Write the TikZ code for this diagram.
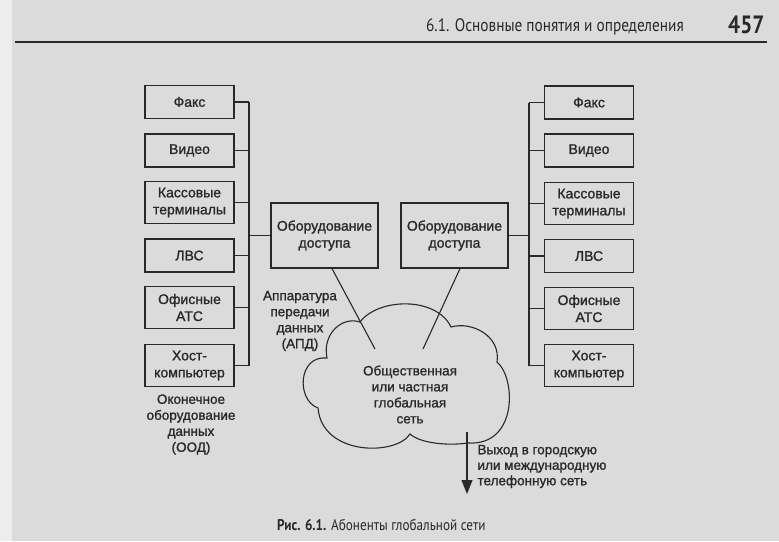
\documentclass[tikz,border=0pt]{standalone}
\usepackage{fontspec}
\setmainfont{Liberation Sans}
\newfontfamily\diagfont[FakeBold=1.2]{Liberation Sans}
\newfontfamily\headfont[FakeStretch=0.85]{PT Sans}
\usetikzlibrary{arrows.meta}
\definecolor{paper}{gray}{0.86}
\definecolor{paperedge}{gray}{0.93}
\definecolor{ink}{gray}{0.16}

\begin{document}
\begin{tikzpicture}[x=1pt,y=-1pt,
  unit/.style={draw=ink,line width=1.2pt,minimum width=89pt,minimum height=33pt,
    inner sep=1pt,align=center,text=ink,font=\diagfont\fontsize{14}{17}\selectfont},
  tall/.style={unit,minimum height=42pt},
  access/.style={unit,minimum width=107pt,minimum height=65pt},
  label/.style={align=center,text=ink,font=\diagfont\fontsize{13.5}{16}\selectfont},
  wire/.style={draw=ink,line width=1.1pt}]
% page
\fill[paperedge] (0,0) rectangle (779,541);
\fill[paper] (12,0) rectangle (779,541);
\useasboundingbox (0,0) rectangle (779,541);
% running head
\node[anchor=base east,inner sep=0pt,text=ink,font=\headfont\fontsize{18}{18}\selectfont] (head) at (684,31) {6.1. Основные понятия и определения};
\node[anchor=base west,inner sep=0pt,text=ink,font=\headfont\bfseries\fontsize{25}{25}\selectfont] (pageno) at (728,33) {457};
\draw[ink,line width=1.3pt] (15,42) -- (767,42);

% left subscribers
\node[unit] (lfax)   at (189.5,102)   {Факс};
\node[unit] (lvideo) at (189.5,150.5) {Видео};
\node[tall] (lpos)   at (189.5,202.5) {Кассовые\\терминалы};
\node[unit] (llan)   at (189.5,255.5) {ЛВС};
\node[tall] (lpbx)   at (189.5,307.5) {Офисные\\АТС};
\node[tall] (lhost)  at (189.5,365.5) {Хост-\\компьютер};
% right subscribers
\node[unit] (rfax)   at (589,102.5) {Факс};
\node[unit] (rvideo) at (589,150.5) {Видео};
\node[tall] (rpos)   at (589,203.5) {Кассовые\\терминалы};
\node[unit] (rlan)   at (589,256)   {ЛВС};
\node[tall] (rpbx)   at (589,308.5) {Офисные\\АТС};
\node[tall] (rhost)  at (589,365.5) {Хост-\\компьютер};
% access equipment
\node[access] (lacc) at (324.5,235.5) {Оборудование\\доступа};
\node[access] (racc) at (454.5,235.5) {Оборудование\\доступа};

% buses
\coordinate (lbus) at (249,0);
\coordinate (rbus) at (529,0);
\foreach \n in {lfax,lvideo,lpos,llan,lpbx,lhost}
  \draw[wire] (\n.east) -- (\n.east -| lbus);
\foreach \n in {rfax,rvideo,rpos,rlan,rpbx,rhost}
  \draw[wire] (\n.west) -- (\n.west -| rbus);
\draw[wire] (lfax.east -| lbus) -- (lhost.east -| lbus);
\draw[wire] (rfax.west -| rbus) -- (rhost.west -| rbus);
\draw[wire] (lacc.west) -- (lacc.west -| lbus);
\draw[wire] (racc.east) -- (racc.east -| rbus);

% network cloud
\draw[wire] (360,322) .. controls (378,298) and (436,296) .. (451,327)
  .. controls (472,321) and (501,336) .. (497,362)
  .. controls (516,378) and (518,446) .. (468,443)
  .. controls (446,446) and (420,443) .. (410,434)
  .. controls (396,456) and (322,456) .. (318,408)
  .. controls (296,400) and (298,355) .. (327,358)
  .. controls (322,334) and (342,316) .. (360,322) -- cycle;
\coordinate (lnet) at (375,349);
\coordinate (rnet) at (423,349);
\coordinate (exittop) at (467,432);
\coordinate (exitend) at (467,494);
\draw[wire] ([xshift=7.5pt]lacc.south) -- (lnet);
\draw[wire] ([xshift=5.5pt]racc.south) -- (rnet);
\draw[wire,-{Triangle[length=14pt,width=11pt]}] (exittop) -- (exitend);

% labels
\node[label] (dte) at (191,424.5) {Оконечное\\оборудование\\данных\\(ООД)};
\node[label] (dce) at (300,321) {Аппаратура\\передачи\\данных\\(АПД)};
\node[label] (net) at (410,394.5) {Общественная\\или частная\\глобальная\\сеть};
\node[label,align=left,anchor=west,font=\diagfont\fontsize{13.5}{15.5}\selectfont] (exit) at (474,466.5) {Выход в городскую\\или международную\\телефонную сеть};
\node[anchor=base west,inner sep=0pt,text=ink,font=\headfont\fontsize{15.5}{15.5}\selectfont] (figcap) at (277,530) {\textbf{Рис. 6.1.} Абоненты глобальной сети};
\end{tikzpicture}
\end{document}
